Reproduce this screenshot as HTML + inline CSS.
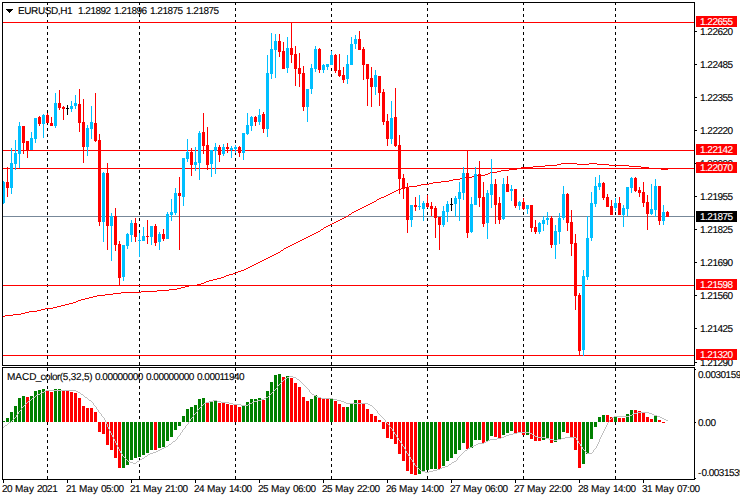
<!DOCTYPE html><html><head><meta charset="utf-8"><title>EURUSD,H1</title>
<style>
html,body{margin:0;padding:0;background:#fff;overflow:hidden;}
body{width:740px;height:500px;position:relative;overflow:hidden;font-family:"Liberation Sans",sans-serif;}
svg{position:absolute;left:0;top:0;}
.t{position:absolute;white-space:nowrap;font-size:10px;line-height:11px;height:11px;color:#000;letter-spacing:-0.5px;text-rendering:geometricPrecision;-webkit-text-stroke:0.12px;}
.w{color:#fff;}
#c{position:absolute;left:0;top:0;width:740px;height:500px;overflow:hidden;}
</style></head><body><div id="c">
<svg width="740" height="500" viewBox="0 0 740 500" shape-rendering="crispEdges">
<rect x="0" y="0" width="740" height="500" fill="#fff"/>
<path d="M47.5 3v2M47.5 8v3M47.5 14v3M47.5 20v3M47.5 26v3M47.5 32v3M47.5 38v3M47.5 44v3M47.5 50v3M47.5 56v3M47.5 62v3M47.5 68v3M47.5 74v3M47.5 80v3M47.5 86v3M47.5 92v3M47.5 98v3M47.5 104v3M47.5 110v3M47.5 116v3M47.5 122v3M47.5 128v3M47.5 134v3M47.5 140v3M47.5 146v3M47.5 152v3M47.5 158v3M47.5 164v3M47.5 170v3M47.5 176v3M47.5 182v3M47.5 188v3M47.5 194v3M47.5 200v3M47.5 206v3M47.5 212v3M47.5 218v3M47.5 224v3M47.5 230v3M47.5 236v3M47.5 242v3M47.5 248v3M47.5 254v3M47.5 260v3M47.5 266v3M47.5 272v3M47.5 278v3M47.5 284v3M47.5 290v3M47.5 296v3M47.5 302v3M47.5 308v3M47.5 314v3M47.5 320v3M47.5 326v3M47.5 332v3M47.5 338v3M47.5 344v3M47.5 350v3M47.5 356v3M47.5 362v3M47.5 368v3M47.5 374v3M47.5 380v3M47.5 386v3M47.5 392v3M47.5 398v3M47.5 404v3M47.5 410v3M47.5 416v3M47.5 422v3M47.5 428v3M47.5 434v3M47.5 440v3M47.5 446v3M47.5 452v3M47.5 458v3M47.5 464v3M47.5 470v3M47.5 476v3M139.5 3v2M139.5 8v3M139.5 14v3M139.5 20v3M139.5 26v3M139.5 32v3M139.5 38v3M139.5 44v3M139.5 50v3M139.5 56v3M139.5 62v3M139.5 68v3M139.5 74v3M139.5 80v3M139.5 86v3M139.5 92v3M139.5 98v3M139.5 104v3M139.5 110v3M139.5 116v3M139.5 122v3M139.5 128v3M139.5 134v3M139.5 140v3M139.5 146v3M139.5 152v3M139.5 158v3M139.5 164v3M139.5 170v3M139.5 176v3M139.5 182v3M139.5 188v3M139.5 194v3M139.5 200v3M139.5 206v3M139.5 212v3M139.5 218v3M139.5 224v3M139.5 230v3M139.5 236v3M139.5 242v3M139.5 248v3M139.5 254v3M139.5 260v3M139.5 266v3M139.5 272v3M139.5 278v3M139.5 284v3M139.5 290v3M139.5 296v3M139.5 302v3M139.5 308v3M139.5 314v3M139.5 320v3M139.5 326v3M139.5 332v3M139.5 338v3M139.5 344v3M139.5 350v3M139.5 356v3M139.5 362v3M139.5 368v3M139.5 374v3M139.5 380v3M139.5 386v3M139.5 392v3M139.5 398v3M139.5 404v3M139.5 410v3M139.5 416v3M139.5 422v3M139.5 428v3M139.5 434v3M139.5 440v3M139.5 446v3M139.5 452v3M139.5 458v3M139.5 464v3M139.5 470v3M139.5 476v3M235.5 3v2M235.5 8v3M235.5 14v3M235.5 20v3M235.5 26v3M235.5 32v3M235.5 38v3M235.5 44v3M235.5 50v3M235.5 56v3M235.5 62v3M235.5 68v3M235.5 74v3M235.5 80v3M235.5 86v3M235.5 92v3M235.5 98v3M235.5 104v3M235.5 110v3M235.5 116v3M235.5 122v3M235.5 128v3M235.5 134v3M235.5 140v3M235.5 146v3M235.5 152v3M235.5 158v3M235.5 164v3M235.5 170v3M235.5 176v3M235.5 182v3M235.5 188v3M235.5 194v3M235.5 200v3M235.5 206v3M235.5 212v3M235.5 218v3M235.5 224v3M235.5 230v3M235.5 236v3M235.5 242v3M235.5 248v3M235.5 254v3M235.5 260v3M235.5 266v3M235.5 272v3M235.5 278v3M235.5 284v3M235.5 290v3M235.5 296v3M235.5 302v3M235.5 308v3M235.5 314v3M235.5 320v3M235.5 326v3M235.5 332v3M235.5 338v3M235.5 344v3M235.5 350v3M235.5 356v3M235.5 362v3M235.5 368v3M235.5 374v3M235.5 380v3M235.5 386v3M235.5 392v3M235.5 398v3M235.5 404v3M235.5 410v3M235.5 416v3M235.5 422v3M235.5 428v3M235.5 434v3M235.5 440v3M235.5 446v3M235.5 452v3M235.5 458v3M235.5 464v3M235.5 470v3M235.5 476v3M331.5 3v2M331.5 8v3M331.5 14v3M331.5 20v3M331.5 26v3M331.5 32v3M331.5 38v3M331.5 44v3M331.5 50v3M331.5 56v3M331.5 62v3M331.5 68v3M331.5 74v3M331.5 80v3M331.5 86v3M331.5 92v3M331.5 98v3M331.5 104v3M331.5 110v3M331.5 116v3M331.5 122v3M331.5 128v3M331.5 134v3M331.5 140v3M331.5 146v3M331.5 152v3M331.5 158v3M331.5 164v3M331.5 170v3M331.5 176v3M331.5 182v3M331.5 188v3M331.5 194v3M331.5 200v3M331.5 206v3M331.5 212v3M331.5 218v3M331.5 224v3M331.5 230v3M331.5 236v3M331.5 242v3M331.5 248v3M331.5 254v3M331.5 260v3M331.5 266v3M331.5 272v3M331.5 278v3M331.5 284v3M331.5 290v3M331.5 296v3M331.5 302v3M331.5 308v3M331.5 314v3M331.5 320v3M331.5 326v3M331.5 332v3M331.5 338v3M331.5 344v3M331.5 350v3M331.5 356v3M331.5 362v3M331.5 368v3M331.5 374v3M331.5 380v3M331.5 386v3M331.5 392v3M331.5 398v3M331.5 404v3M331.5 410v3M331.5 416v3M331.5 422v3M331.5 428v3M331.5 434v3M331.5 440v3M331.5 446v3M331.5 452v3M331.5 458v3M331.5 464v3M331.5 470v3M331.5 476v3M427.5 3v2M427.5 8v3M427.5 14v3M427.5 20v3M427.5 26v3M427.5 32v3M427.5 38v3M427.5 44v3M427.5 50v3M427.5 56v3M427.5 62v3M427.5 68v3M427.5 74v3M427.5 80v3M427.5 86v3M427.5 92v3M427.5 98v3M427.5 104v3M427.5 110v3M427.5 116v3M427.5 122v3M427.5 128v3M427.5 134v3M427.5 140v3M427.5 146v3M427.5 152v3M427.5 158v3M427.5 164v3M427.5 170v3M427.5 176v3M427.5 182v3M427.5 188v3M427.5 194v3M427.5 200v3M427.5 206v3M427.5 212v3M427.5 218v3M427.5 224v3M427.5 230v3M427.5 236v3M427.5 242v3M427.5 248v3M427.5 254v3M427.5 260v3M427.5 266v3M427.5 272v3M427.5 278v3M427.5 284v3M427.5 290v3M427.5 296v3M427.5 302v3M427.5 308v3M427.5 314v3M427.5 320v3M427.5 326v3M427.5 332v3M427.5 338v3M427.5 344v3M427.5 350v3M427.5 356v3M427.5 362v3M427.5 368v3M427.5 374v3M427.5 380v3M427.5 386v3M427.5 392v3M427.5 398v3M427.5 404v3M427.5 410v3M427.5 416v3M427.5 422v3M427.5 428v3M427.5 434v3M427.5 440v3M427.5 446v3M427.5 452v3M427.5 458v3M427.5 464v3M427.5 470v3M427.5 476v3M523.5 3v2M523.5 8v3M523.5 14v3M523.5 20v3M523.5 26v3M523.5 32v3M523.5 38v3M523.5 44v3M523.5 50v3M523.5 56v3M523.5 62v3M523.5 68v3M523.5 74v3M523.5 80v3M523.5 86v3M523.5 92v3M523.5 98v3M523.5 104v3M523.5 110v3M523.5 116v3M523.5 122v3M523.5 128v3M523.5 134v3M523.5 140v3M523.5 146v3M523.5 152v3M523.5 158v3M523.5 164v3M523.5 170v3M523.5 176v3M523.5 182v3M523.5 188v3M523.5 194v3M523.5 200v3M523.5 206v3M523.5 212v3M523.5 218v3M523.5 224v3M523.5 230v3M523.5 236v3M523.5 242v3M523.5 248v3M523.5 254v3M523.5 260v3M523.5 266v3M523.5 272v3M523.5 278v3M523.5 284v3M523.5 290v3M523.5 296v3M523.5 302v3M523.5 308v3M523.5 314v3M523.5 320v3M523.5 326v3M523.5 332v3M523.5 338v3M523.5 344v3M523.5 350v3M523.5 356v3M523.5 362v3M523.5 368v3M523.5 374v3M523.5 380v3M523.5 386v3M523.5 392v3M523.5 398v3M523.5 404v3M523.5 410v3M523.5 416v3M523.5 422v3M523.5 428v3M523.5 434v3M523.5 440v3M523.5 446v3M523.5 452v3M523.5 458v3M523.5 464v3M523.5 470v3M523.5 476v3M615.5 3v2M615.5 8v3M615.5 14v3M615.5 20v3M615.5 26v3M615.5 32v3M615.5 38v3M615.5 44v3M615.5 50v3M615.5 56v3M615.5 62v3M615.5 68v3M615.5 74v3M615.5 80v3M615.5 86v3M615.5 92v3M615.5 98v3M615.5 104v3M615.5 110v3M615.5 116v3M615.5 122v3M615.5 128v3M615.5 134v3M615.5 140v3M615.5 146v3M615.5 152v3M615.5 158v3M615.5 164v3M615.5 170v3M615.5 176v3M615.5 182v3M615.5 188v3M615.5 194v3M615.5 200v3M615.5 206v3M615.5 212v3M615.5 218v3M615.5 224v3M615.5 230v3M615.5 236v3M615.5 242v3M615.5 248v3M615.5 254v3M615.5 260v3M615.5 266v3M615.5 272v3M615.5 278v3M615.5 284v3M615.5 290v3M615.5 296v3M615.5 302v3M615.5 308v3M615.5 314v3M615.5 320v3M615.5 326v3M615.5 332v3M615.5 338v3M615.5 344v3M615.5 350v3M615.5 356v3M615.5 362v3M615.5 368v3M615.5 374v3M615.5 380v3M615.5 386v3M615.5 392v3M615.5 398v3M615.5 404v3M615.5 410v3M615.5 416v3M615.5 422v3M615.5 428v3M615.5 434v3M615.5 440v3M615.5 446v3M615.5 452v3M615.5 458v3M615.5 464v3M615.5 470v3M615.5 476v3" stroke="#000" stroke-width="1" fill="none"/>
<rect x="2" y="421" width="3" height="1" fill="#008000"/>
<rect x="6" y="418" width="3" height="4" fill="#008000"/>
<rect x="10" y="412" width="3" height="10" fill="#008000"/>
<rect x="14" y="406" width="3" height="16" fill="#008000"/>
<rect x="18" y="398" width="3" height="24" fill="#008000"/>
<rect x="22" y="396" width="3" height="26" fill="#008000"/>
<rect x="26" y="397" width="3" height="25" fill="#FF0000"/>
<rect x="30" y="396" width="3" height="26" fill="#008000"/>
<rect x="34" y="391" width="3" height="31" fill="#008000"/>
<rect x="38" y="390" width="3" height="32" fill="#008000"/>
<rect x="42" y="389" width="3" height="33" fill="#008000"/>
<rect x="46" y="390" width="3" height="32" fill="#FF0000"/>
<rect x="50" y="392" width="3" height="30" fill="#FF0000"/>
<rect x="54" y="389" width="3" height="33" fill="#008000"/>
<rect x="58" y="389" width="3" height="33" fill="#008000"/>
<rect x="62" y="391" width="3" height="31" fill="#FF0000"/>
<rect x="66" y="391" width="3" height="31" fill="#FF0000"/>
<rect x="70" y="392" width="3" height="30" fill="#FF0000"/>
<rect x="74" y="393" width="3" height="29" fill="#FF0000"/>
<rect x="78" y="398" width="3" height="24" fill="#FF0000"/>
<rect x="82" y="406" width="3" height="16" fill="#FF0000"/>
<rect x="86" y="408" width="3" height="14" fill="#FF0000"/>
<rect x="90" y="408" width="3" height="14" fill="#FF0000"/>
<rect x="94" y="412" width="3" height="10" fill="#FF0000"/>
<rect x="98" y="422" width="3" height="10" fill="#FF0000"/>
<rect x="102" y="422" width="3" height="12" fill="#FF0000"/>
<rect x="106" y="422" width="3" height="23" fill="#FF0000"/>
<rect x="110" y="422" width="3" height="28" fill="#FF0000"/>
<rect x="114" y="422" width="3" height="36" fill="#FF0000"/>
<rect x="118" y="422" width="3" height="46" fill="#FF0000"/>
<rect x="122" y="422" width="3" height="46" fill="#008000"/>
<rect x="126" y="422" width="3" height="43" fill="#008000"/>
<rect x="130" y="422" width="3" height="38" fill="#008000"/>
<rect x="134" y="422" width="3" height="36" fill="#008000"/>
<rect x="138" y="422" width="3" height="35" fill="#008000"/>
<rect x="142" y="422" width="3" height="33" fill="#008000"/>
<rect x="146" y="422" width="3" height="31" fill="#008000"/>
<rect x="150" y="422" width="3" height="28" fill="#008000"/>
<rect x="154" y="422" width="3" height="28" fill="#FF0000"/>
<rect x="158" y="422" width="3" height="26" fill="#008000"/>
<rect x="162" y="422" width="3" height="25" fill="#008000"/>
<rect x="166" y="422" width="3" height="19" fill="#008000"/>
<rect x="170" y="422" width="3" height="15" fill="#008000"/>
<rect x="174" y="422" width="3" height="8" fill="#008000"/>
<rect x="178" y="422" width="3" height="4" fill="#008000"/>
<rect x="182" y="416" width="3" height="6" fill="#008000"/>
<rect x="186" y="409" width="3" height="13" fill="#008000"/>
<rect x="190" y="407" width="3" height="15" fill="#008000"/>
<rect x="194" y="405" width="3" height="17" fill="#008000"/>
<rect x="198" y="399" width="3" height="23" fill="#008000"/>
<rect x="202" y="398" width="3" height="24" fill="#008000"/>
<rect x="206" y="403" width="3" height="19" fill="#FF0000"/>
<rect x="210" y="402" width="3" height="20" fill="#008000"/>
<rect x="214" y="401" width="3" height="21" fill="#008000"/>
<rect x="218" y="403" width="3" height="19" fill="#FF0000"/>
<rect x="222" y="403" width="3" height="19" fill="#FF0000"/>
<rect x="226" y="404" width="3" height="18" fill="#FF0000"/>
<rect x="230" y="405" width="3" height="17" fill="#FF0000"/>
<rect x="234" y="405" width="3" height="17" fill="#FF0000"/>
<rect x="238" y="407" width="3" height="15" fill="#FF0000"/>
<rect x="242" y="406" width="3" height="16" fill="#008000"/>
<rect x="246" y="402" width="3" height="20" fill="#008000"/>
<rect x="250" y="399" width="3" height="23" fill="#008000"/>
<rect x="254" y="399" width="3" height="23" fill="#008000"/>
<rect x="258" y="398" width="3" height="24" fill="#008000"/>
<rect x="262" y="400" width="3" height="22" fill="#FF0000"/>
<rect x="266" y="391" width="3" height="31" fill="#008000"/>
<rect x="270" y="382" width="3" height="40" fill="#008000"/>
<rect x="274" y="375" width="3" height="47" fill="#008000"/>
<rect x="278" y="374" width="3" height="48" fill="#008000"/>
<rect x="282" y="377" width="3" height="45" fill="#FF0000"/>
<rect x="286" y="376" width="3" height="46" fill="#008000"/>
<rect x="290" y="378" width="3" height="44" fill="#FF0000"/>
<rect x="294" y="383" width="3" height="39" fill="#FF0000"/>
<rect x="298" y="387" width="3" height="35" fill="#FF0000"/>
<rect x="302" y="397" width="3" height="25" fill="#FF0000"/>
<rect x="306" y="401" width="3" height="21" fill="#FF0000"/>
<rect x="310" y="399" width="3" height="23" fill="#008000"/>
<rect x="314" y="395" width="3" height="27" fill="#008000"/>
<rect x="318" y="397" width="3" height="25" fill="#FF0000"/>
<rect x="322" y="399" width="3" height="23" fill="#FF0000"/>
<rect x="326" y="399" width="3" height="23" fill="#FF0000"/>
<rect x="330" y="398" width="3" height="24" fill="#008000"/>
<rect x="334" y="401" width="3" height="21" fill="#FF0000"/>
<rect x="338" y="404" width="3" height="18" fill="#FF0000"/>
<rect x="342" y="407" width="3" height="15" fill="#FF0000"/>
<rect x="346" y="407" width="3" height="15" fill="#008000"/>
<rect x="350" y="403" width="3" height="19" fill="#008000"/>
<rect x="354" y="400" width="3" height="22" fill="#008000"/>
<rect x="358" y="400" width="3" height="22" fill="#FF0000"/>
<rect x="362" y="404" width="3" height="18" fill="#FF0000"/>
<rect x="366" y="409" width="3" height="13" fill="#FF0000"/>
<rect x="370" y="414" width="3" height="8" fill="#FF0000"/>
<rect x="374" y="416" width="3" height="6" fill="#FF0000"/>
<rect x="378" y="420" width="3" height="2" fill="#FF0000"/>
<rect x="382" y="422" width="3" height="7" fill="#FF0000"/>
<rect x="386" y="422" width="3" height="16" fill="#FF0000"/>
<rect x="390" y="422" width="3" height="17" fill="#FF0000"/>
<rect x="394" y="422" width="3" height="22" fill="#FF0000"/>
<rect x="398" y="422" width="3" height="32" fill="#FF0000"/>
<rect x="402" y="422" width="3" height="39" fill="#FF0000"/>
<rect x="406" y="422" width="3" height="49" fill="#FF0000"/>
<rect x="410" y="422" width="3" height="52" fill="#FF0000"/>
<rect x="414" y="422" width="3" height="53" fill="#FF0000"/>
<rect x="418" y="422" width="3" height="52" fill="#008000"/>
<rect x="422" y="422" width="3" height="50" fill="#008000"/>
<rect x="426" y="422" width="3" height="48" fill="#008000"/>
<rect x="430" y="422" width="3" height="47" fill="#008000"/>
<rect x="434" y="422" width="3" height="47" fill="#008000"/>
<rect x="438" y="422" width="3" height="47" fill="#FF0000"/>
<rect x="442" y="422" width="3" height="44" fill="#008000"/>
<rect x="446" y="422" width="3" height="39" fill="#008000"/>
<rect x="450" y="422" width="3" height="36" fill="#008000"/>
<rect x="454" y="422" width="3" height="32" fill="#008000"/>
<rect x="458" y="422" width="3" height="28" fill="#008000"/>
<rect x="462" y="422" width="3" height="21" fill="#008000"/>
<rect x="466" y="422" width="3" height="27" fill="#FF0000"/>
<rect x="470" y="422" width="3" height="26" fill="#008000"/>
<rect x="474" y="422" width="3" height="18" fill="#008000"/>
<rect x="478" y="422" width="3" height="18" fill="#008000"/>
<rect x="482" y="422" width="3" height="21" fill="#FF0000"/>
<rect x="486" y="422" width="3" height="19" fill="#008000"/>
<rect x="490" y="422" width="3" height="14" fill="#008000"/>
<rect x="494" y="422" width="3" height="15" fill="#FF0000"/>
<rect x="498" y="422" width="3" height="17" fill="#FF0000"/>
<rect x="502" y="422" width="3" height="13" fill="#008000"/>
<rect x="506" y="422" width="3" height="11" fill="#008000"/>
<rect x="510" y="422" width="3" height="9" fill="#008000"/>
<rect x="514" y="422" width="3" height="11" fill="#FF0000"/>
<rect x="518" y="422" width="3" height="10" fill="#FF0000"/>
<rect x="522" y="422" width="3" height="13" fill="#FF0000"/>
<rect x="526" y="422" width="3" height="13" fill="#008000"/>
<rect x="530" y="422" width="3" height="17" fill="#FF0000"/>
<rect x="534" y="422" width="3" height="19" fill="#FF0000"/>
<rect x="538" y="422" width="3" height="19" fill="#FF0000"/>
<rect x="542" y="422" width="3" height="18" fill="#008000"/>
<rect x="546" y="422" width="3" height="17" fill="#008000"/>
<rect x="550" y="422" width="3" height="21" fill="#FF0000"/>
<rect x="554" y="422" width="3" height="20" fill="#008000"/>
<rect x="558" y="422" width="3" height="17" fill="#008000"/>
<rect x="562" y="422" width="3" height="10" fill="#008000"/>
<rect x="566" y="422" width="3" height="11" fill="#FF0000"/>
<rect x="570" y="422" width="3" height="16" fill="#FF0000"/>
<rect x="574" y="422" width="3" height="28" fill="#FF0000"/>
<rect x="578" y="422" width="3" height="46" fill="#FF0000"/>
<rect x="582" y="422" width="3" height="42" fill="#008000"/>
<rect x="586" y="422" width="3" height="32" fill="#008000"/>
<rect x="590" y="422" width="3" height="17" fill="#008000"/>
<rect x="594" y="422" width="3" height="5" fill="#008000"/>
<rect x="598" y="417" width="3" height="5" fill="#008000"/>
<rect x="602" y="415" width="3" height="7" fill="#008000"/>
<rect x="606" y="415" width="3" height="7" fill="#FF0000"/>
<rect x="610" y="417" width="3" height="5" fill="#FF0000"/>
<rect x="614" y="417" width="3" height="5" fill="#008000"/>
<rect x="618" y="418" width="3" height="4" fill="#FF0000"/>
<rect x="622" y="418" width="3" height="4" fill="#FF0000"/>
<rect x="626" y="414" width="3" height="8" fill="#008000"/>
<rect x="630" y="410" width="3" height="12" fill="#008000"/>
<rect x="634" y="410" width="3" height="12" fill="#FF0000"/>
<rect x="638" y="411" width="3" height="11" fill="#FF0000"/>
<rect x="642" y="413" width="3" height="9" fill="#FF0000"/>
<rect x="646" y="417" width="3" height="5" fill="#FF0000"/>
<rect x="650" y="419" width="3" height="3" fill="#FF0000"/>
<rect x="654" y="416" width="3" height="6" fill="#008000"/>
<rect x="658" y="420" width="3" height="2" fill="#FF0000"/>
<rect x="662" y="422" width="3" height="1" fill="#FF0000"/>
<path d="M16 416h1v1h-1zM102 416h1v1h-1zM193 416h1v1h-1zM381 416h1v1h-1zM614 416h15v1h-15zM657 416h3v1h-3zM9 422h2v1h-2zM106 422h1v1h-1zM188 422h1v1h-1zM386 422h1v1h-1zM608 422h1v1h-1zM115 441h1v1h-1zM173 441h2v1h-2zM400 441h1v1h-1zM486 441h2v1h-2zM578 441h1v1h-1zM599 441h1v1h-1zM419 469h1v1h-1zM437 469h3v1h-3zM113 437h1v1h-1zM177 437h1v1h-1zM397 437h1v1h-1zM501 437h3v1h-3zM537 437h8v1h-8zM565 437h11v1h-11zM600 437h1v1h-1zM117 446h1v1h-1zM166 446h2v1h-2zM403 446h1v1h-1zM472 446h2v1h-2zM581 446h1v1h-1zM596 446h1v1h-1zM29 400h2v1h-2zM89 400h2v1h-2zM213 400h4v1h-4zM257 400h4v1h-4zM337 400h4v1h-4zM114 439h1v1h-1zM176 439h1v1h-1zM398 439h1v1h-1zM490 439h7v1h-7zM549 439h4v1h-4zM557 439h4v1h-4zM576 439h1v1h-1zM599 439h1v1h-1zM8 423h1v1h-1zM106 423h1v1h-1zM188 423h1v1h-1zM387 423h1v1h-1zM607 423h1v1h-1zM122 455h1v1h-1zM147 455h1v1h-1zM408 455h1v1h-1zM460 455h1v1h-1zM46 390h30v1h-30zM274 390h1v1h-1zM309 390h1v1h-1zM121 453h1v1h-1zM150 453h3v1h-3zM407 453h1v1h-1zM462 453h1v1h-1zM587 453h5v1h-5zM114 440h1v1h-1zM175 440h1v1h-1zM399 440h1v1h-1zM488 440h2v1h-2zM553 440h4v1h-4zM577 440h1v1h-1zM599 440h1v1h-1zM116 443h1v1h-1zM171 443h1v1h-1zM401 443h1v1h-1zM478 443h6v1h-6zM579 443h1v1h-1zM598 443h1v1h-1zM28 401h1v1h-1zM91 401h1v1h-1zM209 401h4v1h-4zM217 401h4v1h-4zM254 401h3v1h-3zM341 401h3v1h-3zM117 445h1v1h-1zM168 445h1v1h-1zM402 445h1v1h-1zM474 445h2v1h-2zM580 445h1v1h-1zM597 445h1v1h-1zM417 467h1v1h-1zM442 467h3v1h-3zM120 451h1v1h-1zM156 451h2v1h-2zM406 451h1v1h-1zM464 451h1v1h-1zM585 451h1v1h-1zM593 451h1v1h-1zM118 448h1v1h-1zM162 448h2v1h-2zM404 448h1v1h-1zM468 448h2v1h-2zM582 448h1v1h-1zM595 448h1v1h-1zM128 461h2v1h-2zM137 461h2v1h-2zM412 461h1v1h-1zM454 461h2v1h-2zM18 412h1v1h-1zM99 412h1v1h-1zM196 412h1v1h-1zM377 412h1v1h-1zM637 412h12v1h-12zM27 402h1v1h-1zM92 402h1v1h-1zM206 402h3v1h-3zM221 402h8v1h-8zM252 402h2v1h-2zM344 402h2v1h-2zM119 449h1v1h-1zM160 449h2v1h-2zM405 449h1v1h-1zM467 449h1v1h-1zM583 449h1v1h-1zM594 449h1v1h-1zM126 459h1v1h-1zM140 459h2v1h-2zM411 459h1v1h-1zM457 459h1v1h-1zM3 427h1v1h-1zM108 427h1v1h-1zM185 427h1v1h-1zM390 427h1v1h-1zM605 427h1v1h-1zM414 464h1v1h-1zM449 464h2v1h-2zM20 410h1v1h-1zM98 410h1v1h-1zM197 410h1v1h-1zM376 410h1v1h-1zM26 403h1v1h-1zM93 403h1v1h-1zM204 403h2v1h-2zM229 403h4v1h-4zM250 403h2v1h-2zM346 403h22v1h-22zM17 414h1v1h-1zM101 414h1v1h-1zM194 414h1v1h-1zM379 414h1v1h-1zM632 414h2v1h-2zM652 414h2v1h-2zM112 436h1v1h-1zM178 436h1v1h-1zM396 436h1v1h-1zM504 436h2v1h-2zM535 436h2v1h-2zM601 436h1v1h-1zM425 472h4v1h-4zM113 438h1v1h-1zM177 438h1v1h-1zM398 438h1v1h-1zM497 438h4v1h-4zM545 438h4v1h-4zM561 438h4v1h-4zM576 438h1v1h-1zM600 438h1v1h-1zM14 418h1v1h-1zM104 418h1v1h-1zM191 418h1v1h-1zM383 418h1v1h-1zM611 418h1v1h-1zM662 418h2v1h-2zM289 376h4v1h-4zM119 450h1v1h-1zM158 450h2v1h-2zM405 450h1v1h-1zM465 450h2v1h-2zM584 450h1v1h-1zM593 450h1v1h-1zM120 452h1v1h-1zM153 452h3v1h-3zM406 452h1v1h-1zM463 452h1v1h-1zM586 452h1v1h-1zM592 452h1v1h-1zM278 385h1v1h-1zM304 385h1v1h-1zM5 425h2v1h-2zM107 425h1v1h-1zM186 425h1v1h-1zM389 425h1v1h-1zM606 425h1v1h-1zM32 398h1v1h-1zM87 398h1v1h-1zM264 398h2v1h-2zM321 398h12v1h-12zM111 434h1v1h-1zM180 434h1v1h-1zM395 434h1v1h-1zM509 434h4v1h-4zM532 434h1v1h-1zM602 434h1v1h-1zM31 399h1v1h-1zM88 399h1v1h-1zM261 399h3v1h-3zM333 399h4v1h-4zM123 456h1v1h-1zM145 456h2v1h-2zM409 456h1v1h-1zM459 456h1v1h-1zM18 413h1v1h-1zM100 413h1v1h-1zM195 413h1v1h-1zM378 413h1v1h-1zM634 413h3v1h-3zM649 413h3v1h-3zM22 407h1v1h-1zM96 407h1v1h-1zM200 407h1v1h-1zM373 407h1v1h-1zM44 391h2v1h-2zM76 391h2v1h-2zM273 391h1v1h-1zM309 391h1v1h-1zM116 444h1v1h-1zM169 444h2v1h-2zM402 444h1v1h-1zM476 444h2v1h-2zM580 444h1v1h-1zM597 444h1v1h-1zM24 405h1v1h-1zM94 405h1v1h-1zM202 405h1v1h-1zM241 405h7v1h-7zM370 405h2v1h-2zM122 454h1v1h-1zM148 454h2v1h-2zM408 454h1v1h-1zM461 454h1v1h-1zM282 381h1v1h-1zM300 381h1v1h-1zM23 406h1v1h-1zM95 406h1v1h-1zM201 406h1v1h-1zM372 406h1v1h-1zM115 442h1v1h-1zM172 442h1v1h-1zM400 442h1v1h-1zM484 442h2v1h-2zM578 442h1v1h-1zM598 442h1v1h-1zM118 447h1v1h-1zM164 447h2v1h-2zM404 447h1v1h-1zM470 447h2v1h-2zM582 447h1v1h-1zM596 447h1v1h-1zM127 460h1v1h-1zM139 460h1v1h-1zM412 460h1v1h-1zM456 460h1v1h-1zM416 466h1v1h-1zM445 466h3v1h-3zM125 458h1v1h-1zM142 458h2v1h-2zM410 458h1v1h-1zM457 458h1v1h-1zM4 426h1v1h-1zM107 426h1v1h-1zM185 426h1v1h-1zM389 426h1v1h-1zM606 426h1v1h-1zM112 435h1v1h-1zM179 435h1v1h-1zM396 435h1v1h-1zM506 435h3v1h-3zM533 435h2v1h-2zM601 435h1v1h-1zM11 421h1v1h-1zM105 421h1v1h-1zM189 421h1v1h-1zM385 421h1v1h-1zM609 421h1v1h-1zM25 404h1v1h-1zM93 404h1v1h-1zM203 404h1v1h-1zM233 404h8v1h-8zM248 404h2v1h-2zM368 404h2v1h-2zM111 433h1v1h-1zM180 433h1v1h-1zM394 433h1v1h-1zM513 433h4v1h-4zM529 433h3v1h-3zM602 433h1v1h-1zM276 388h1v1h-1zM307 388h1v1h-1zM33 397h2v1h-2zM85 397h2v1h-2zM266 397h2v1h-2zM318 397h3v1h-3zM110 432h1v1h-1zM181 432h1v1h-1zM394 432h1v1h-1zM517 432h12v1h-12zM603 432h1v1h-1zM285 378h2v1h-2zM296 378h1v1h-1zM283 380h1v1h-1zM299 380h1v1h-1zM420 470h2v1h-2zM433 470h4v1h-4zM21 408h1v1h-1zM96 408h1v1h-1zM199 408h1v1h-1zM374 408h1v1h-1zM36 395h2v1h-2zM83 395h1v1h-1zM269 395h1v1h-1zM314 395h2v1h-2zM415 465h1v1h-1zM448 465h1v1h-1zM277 387h1v1h-1zM306 387h1v1h-1zM418 468h1v1h-1zM440 468h2v1h-2zM35 396h1v1h-1zM84 396h1v1h-1zM268 396h1v1h-1zM316 396h2v1h-2zM16 415h1v1h-1zM101 415h1v1h-1zM193 415h1v1h-1zM380 415h1v1h-1zM629 415h3v1h-3zM654 415h3v1h-3zM287 377h2v1h-2zM293 377h3v1h-3zM13 419h1v1h-1zM104 419h1v1h-1zM190 419h1v1h-1zM384 419h1v1h-1zM610 419h1v1h-1zM664 419h2v1h-2zM12 420h1v1h-1zM105 420h1v1h-1zM190 420h1v1h-1zM385 420h1v1h-1zM609 420h1v1h-1zM666 420h2v1h-2zM422 471h3v1h-3zM429 471h4v1h-4zM15 417h1v1h-1zM103 417h1v1h-1zM192 417h1v1h-1zM382 417h1v1h-1zM612 417h2v1h-2zM660 417h2v1h-2zM124 457h1v1h-1zM144 457h1v1h-1zM410 457h1v1h-1zM458 457h1v1h-1zM40 393h2v1h-2zM80 393h1v1h-1zM271 393h1v1h-1zM311 393h1v1h-1zM7 424h1v1h-1zM107 424h1v1h-1zM187 424h1v1h-1zM388 424h1v1h-1zM607 424h1v1h-1zM42 392h2v1h-2zM78 392h2v1h-2zM272 392h1v1h-1zM310 392h1v1h-1zM130 462h3v1h-3zM136 462h1v1h-1zM413 462h1v1h-1zM452 462h2v1h-2zM38 394h2v1h-2zM81 394h2v1h-2zM270 394h1v1h-1zM312 394h2v1h-2zM133 463h3v1h-3zM414 463h1v1h-1zM451 463h1v1h-1zM110 431h1v1h-1zM182 431h1v1h-1zM393 431h1v1h-1zM603 431h1v1h-1zM280 383h1v1h-1zM302 383h1v1h-1zM275 389h1v1h-1zM308 389h1v1h-1zM109 430h1v1h-1zM182 430h1v1h-1zM392 430h1v1h-1zM604 430h1v1h-1zM109 429h1v1h-1zM183 429h1v1h-1zM392 429h1v1h-1zM604 429h1v1h-1zM108 428h1v1h-1zM184 428h1v1h-1zM391 428h1v1h-1zM605 428h1v1h-1zM281 382h1v1h-1zM301 382h1v1h-1zM19 411h1v1h-1zM98 411h1v1h-1zM197 411h1v1h-1zM377 411h1v1h-1zM284 379h1v1h-1zM297 379h2v1h-2zM277 386h1v1h-1zM305 386h1v1h-1zM279 384h1v1h-1zM303 384h1v1h-1zM21 409h1v1h-1zM97 409h1v1h-1zM198 409h1v1h-1zM375 409h1v1h-1z" fill="#C0C0C0"/>
<rect x="3" y="22" width="691" height="1" fill="#FF0000"/>
<rect x="3" y="150" width="691" height="1" fill="#FF0000"/>
<rect x="3" y="168" width="691" height="1" fill="#FF0000"/>
<rect x="3" y="285" width="691" height="1" fill="#FF0000"/>
<rect x="3" y="355" width="691" height="1" fill="#FF0000"/>
<rect x="3" y="216" width="691" height="1" fill="#778899"/>
<path d="M409 186h8v1h-8zM324 227h2v1h-2zM270 256h2v1h-2zM13 314h8v1h-8zM206 281h3v1h-3zM69 303h4v1h-4zM545 165h12v1h-12zM609 165h20v1h-20zM474 175h11v1h-11zM105 294h8v1h-8zM141 291h16v1h-16zM346 216h2v1h-2zM392 192h2v1h-2zM561 163h16v1h-16zM589 163h8v1h-8zM429 183h4v1h-4zM441 181h8v1h-8zM189 285h8v1h-8zM157 290h12v1h-12zM351 213h1v1h-1zM296 242h2v1h-2zM338 220h2v1h-2zM113 293h8v1h-8zM342 218h2v1h-2zM384 196h2v1h-2zM462 177h10v1h-10zM533 166h12v1h-12zM629 166h12v1h-12zM213 279h4v1h-4zM433 182h8v1h-8zM246 268h2v1h-2zM288 246h2v1h-2zM57 306h4v1h-4zM521 167h12v1h-12zM641 167h8v1h-8zM453 179h7v1h-7zM557 164h4v1h-4zM577 164h12v1h-12zM597 164h12v1h-12zM177 288h4v1h-4zM37 310h4v1h-4zM490 172h7v1h-7zM197 284h4v1h-4zM370 203h2v1h-2zM316 232h2v1h-2zM121 292h20v1h-20zM509 169h8v1h-8zM661 169h7v1h-7zM65 304h4v1h-4zM25 312h4v1h-4zM29 311h8v1h-8zM266 258h2v1h-2zM312 234h2v1h-2zM421 184h8v1h-8zM45 308h8v1h-8zM226 275h3v1h-3zM517 168h4v1h-4zM649 168h12v1h-12zM388 194h2v1h-2zM89 297h4v1h-4zM284 248h2v1h-2zM334 222h2v1h-2zM449 180h4v1h-4zM488 173h2v1h-2zM330 224h2v1h-2zM276 253h2v1h-2zM97 295h8v1h-8zM78 300h3v1h-3zM53 307h4v1h-4zM398 189h3v1h-3zM501 170h8v1h-8zM5 315h8v1h-8zM294 243h2v1h-2zM366 205h2v1h-2zM417 185h4v1h-4zM85 298h4v1h-4zM362 207h2v1h-2zM308 236h2v1h-2zM376 200h1v1h-1zM405 187h4v1h-4zM221 277h3v1h-3zM204 282h2v1h-2zM268 257h2v1h-2zM326 226h2v1h-2zM272 255h2v1h-2zM314 233h2v1h-2zM238 271h3v1h-3zM497 171h4v1h-4zM233 273h3v1h-3zM209 280h4v1h-4zM318 231h2v1h-2zM73 302h3v1h-3zM244 269h2v1h-2zM290 245h2v1h-2zM169 289h8v1h-8zM485 174h3v1h-3zM41 309h4v1h-4zM217 278h4v1h-4zM372 202h2v1h-2zM61 305h4v1h-4zM21 313h4v1h-4zM264 259h2v1h-2zM364 206h2v1h-2zM310 235h2v1h-2zM229 274h4v1h-4zM260 261h2v1h-2zM185 286h4v1h-4zM336 221h2v1h-2zM381 197h3v1h-3zM286 247h2v1h-2zM332 223h2v1h-2zM278 252h2v1h-2zM76 301h2v1h-2zM472 176h2v1h-2zM368 204h2v1h-2zM241 270h3v1h-3zM81 299h4v1h-4zM360 208h2v1h-2zM306 237h2v1h-2zM401 188h4v1h-4zM224 276h2v1h-2zM201 283h3v1h-3zM256 263h2v1h-2zM283 249h1v1h-1zM328 225h2v1h-2zM274 254h2v1h-2zM93 296h4v1h-4zM3 316h2v1h-2zM236 272h2v1h-2zM356 210h2v1h-2zM302 239h2v1h-2zM348 215h1v1h-1zM252 265h2v1h-2zM352 212h2v1h-2zM298 241h2v1h-2zM460 178h2v1h-2zM374 201h2v1h-2zM181 287h4v1h-4zM262 260h2v1h-2zM379 198h2v1h-2zM394 191h2v1h-2zM281 250h2v1h-2zM344 217h2v1h-2zM390 193h2v1h-2zM258 262h2v1h-2zM321 229h2v1h-2zM386 195h2v1h-2zM358 209h2v1h-2zM304 238h2v1h-2zM349 214h2v1h-2zM254 264h2v1h-2zM300 240h2v1h-2zM250 266h2v1h-2zM377 199h2v1h-2zM323 228h1v1h-1zM396 190h2v1h-2zM354 211h2v1h-2zM292 244h2v1h-2zM248 267h2v1h-2zM280 251h1v1h-1zM340 219h2v1h-2zM320 230h1v1h-1z" fill="#FF0000"/>
<rect x="3" y="181" width="1" height="23" fill="#00BFFF"/>
<rect x="2" y="182" width="3" height="21" fill="#00BFFF"/>
<rect x="7" y="167" width="1" height="30" fill="#FF0000"/>
<rect x="6" y="182" width="3" height="6" fill="#FF0000"/>
<rect x="11" y="148" width="1" height="46" fill="#00BFFF"/>
<rect x="10" y="163" width="3" height="25" fill="#00BFFF"/>
<rect x="15" y="140" width="1" height="30" fill="#00BFFF"/>
<rect x="14" y="153" width="3" height="11" fill="#00BFFF"/>
<rect x="19" y="122" width="1" height="46" fill="#00BFFF"/>
<rect x="18" y="126" width="3" height="28" fill="#00BFFF"/>
<rect x="23" y="126" width="1" height="28" fill="#FF0000"/>
<rect x="22" y="126" width="3" height="17" fill="#FF0000"/>
<rect x="27" y="141" width="1" height="17" fill="#FF0000"/>
<rect x="26" y="141" width="3" height="9" fill="#FF0000"/>
<rect x="31" y="132" width="1" height="18" fill="#00BFFF"/>
<rect x="30" y="138" width="3" height="12" fill="#00BFFF"/>
<rect x="35" y="118" width="1" height="25" fill="#00BFFF"/>
<rect x="34" y="118" width="3" height="21" fill="#00BFFF"/>
<rect x="39" y="116" width="1" height="10" fill="#FF0000"/>
<rect x="38" y="117" width="3" height="7" fill="#FF0000"/>
<rect x="43" y="114" width="1" height="24" fill="#00BFFF"/>
<rect x="42" y="115" width="3" height="9" fill="#00BFFF"/>
<rect x="47" y="113" width="1" height="10" fill="#FF0000"/>
<rect x="46" y="115" width="3" height="8" fill="#FF0000"/>
<rect x="51" y="117" width="1" height="9" fill="#FF0000"/>
<rect x="50" y="123" width="3" height="3" fill="#FF0000"/>
<rect x="55" y="93" width="1" height="35" fill="#00BFFF"/>
<rect x="54" y="103" width="3" height="23" fill="#00BFFF"/>
<rect x="59" y="90" width="1" height="20" fill="#FF0000"/>
<rect x="58" y="103" width="3" height="5" fill="#FF0000"/>
<rect x="63" y="106" width="1" height="14" fill="#FF0000"/>
<rect x="62" y="107" width="3" height="2" fill="#FF0000"/>
<rect x="67" y="105" width="1" height="10" fill="#000"/>
<rect x="66" y="108" width="3" height="1" fill="#000"/>
<rect x="71" y="101" width="1" height="11" fill="#00BFFF"/>
<rect x="70" y="106" width="3" height="3" fill="#00BFFF"/>
<rect x="75" y="95" width="1" height="14" fill="#00BFFF"/>
<rect x="74" y="103" width="3" height="3" fill="#00BFFF"/>
<rect x="79" y="89" width="1" height="43" fill="#FF0000"/>
<rect x="78" y="104" width="3" height="19" fill="#FF0000"/>
<rect x="83" y="99" width="1" height="64" fill="#FF0000"/>
<rect x="82" y="122" width="3" height="25" fill="#FF0000"/>
<rect x="87" y="125" width="1" height="31" fill="#00BFFF"/>
<rect x="86" y="128" width="3" height="19" fill="#00BFFF"/>
<rect x="91" y="106" width="1" height="33" fill="#00BFFF"/>
<rect x="90" y="122" width="3" height="7" fill="#00BFFF"/>
<rect x="95" y="93" width="1" height="49" fill="#FF0000"/>
<rect x="94" y="123" width="3" height="18" fill="#FF0000"/>
<rect x="99" y="134" width="1" height="92" fill="#FF0000"/>
<rect x="98" y="140" width="3" height="82" fill="#FF0000"/>
<rect x="103" y="172" width="1" height="70" fill="#00BFFF"/>
<rect x="102" y="173" width="3" height="49" fill="#00BFFF"/>
<rect x="107" y="163" width="1" height="87" fill="#FF0000"/>
<rect x="106" y="173" width="3" height="53" fill="#FF0000"/>
<rect x="111" y="213" width="1" height="48" fill="#00BFFF"/>
<rect x="110" y="216" width="3" height="10" fill="#00BFFF"/>
<rect x="115" y="208" width="1" height="43" fill="#FF0000"/>
<rect x="114" y="216" width="3" height="29" fill="#FF0000"/>
<rect x="119" y="241" width="1" height="44" fill="#FF0000"/>
<rect x="118" y="244" width="3" height="34" fill="#FF0000"/>
<rect x="123" y="245" width="1" height="36" fill="#00BFFF"/>
<rect x="122" y="245" width="3" height="32" fill="#00BFFF"/>
<rect x="127" y="233" width="1" height="16" fill="#00BFFF"/>
<rect x="126" y="234" width="3" height="12" fill="#00BFFF"/>
<rect x="131" y="220" width="1" height="22" fill="#00BFFF"/>
<rect x="130" y="223" width="3" height="12" fill="#00BFFF"/>
<rect x="135" y="218" width="1" height="24" fill="#FF0000"/>
<rect x="134" y="223" width="3" height="14" fill="#FF0000"/>
<rect x="139" y="233" width="1" height="24" fill="#00BFFF"/>
<rect x="138" y="240" width="3" height="1" fill="#00BFFF"/>
<rect x="143" y="227" width="1" height="14" fill="#00BFFF"/>
<rect x="142" y="236" width="3" height="5" fill="#00BFFF"/>
<rect x="147" y="220" width="1" height="24" fill="#FF0000"/>
<rect x="146" y="236" width="3" height="1" fill="#FF0000"/>
<rect x="151" y="226" width="1" height="19" fill="#00BFFF"/>
<rect x="150" y="226" width="3" height="11" fill="#00BFFF"/>
<rect x="155" y="224" width="1" height="22" fill="#FF0000"/>
<rect x="154" y="226" width="3" height="17" fill="#FF0000"/>
<rect x="159" y="232" width="1" height="18" fill="#00BFFF"/>
<rect x="158" y="234" width="3" height="8" fill="#00BFFF"/>
<rect x="163" y="229" width="1" height="12" fill="#FF0000"/>
<rect x="162" y="234" width="3" height="5" fill="#FF0000"/>
<rect x="167" y="212" width="1" height="27" fill="#00BFFF"/>
<rect x="166" y="214" width="3" height="25" fill="#00BFFF"/>
<rect x="171" y="199" width="1" height="22" fill="#00BFFF"/>
<rect x="170" y="212" width="3" height="3" fill="#00BFFF"/>
<rect x="175" y="188" width="1" height="27" fill="#00BFFF"/>
<rect x="174" y="193" width="3" height="20" fill="#00BFFF"/>
<rect x="179" y="177" width="1" height="73" fill="#FF0000"/>
<rect x="178" y="193" width="3" height="3" fill="#FF0000"/>
<rect x="183" y="158" width="1" height="48" fill="#00BFFF"/>
<rect x="182" y="158" width="3" height="39" fill="#00BFFF"/>
<rect x="187" y="139" width="1" height="23" fill="#00BFFF"/>
<rect x="186" y="152" width="3" height="7" fill="#00BFFF"/>
<rect x="191" y="148" width="1" height="28" fill="#FF0000"/>
<rect x="190" y="152" width="3" height="13" fill="#FF0000"/>
<rect x="195" y="147" width="1" height="24" fill="#00BFFF"/>
<rect x="194" y="162" width="3" height="3" fill="#00BFFF"/>
<rect x="199" y="131" width="1" height="49" fill="#00BFFF"/>
<rect x="198" y="133" width="3" height="30" fill="#00BFFF"/>
<rect x="203" y="113" width="1" height="41" fill="#FF0000"/>
<rect x="202" y="132" width="3" height="14" fill="#FF0000"/>
<rect x="207" y="127" width="1" height="43" fill="#FF0000"/>
<rect x="206" y="145" width="3" height="20" fill="#FF0000"/>
<rect x="211" y="150" width="1" height="27" fill="#00BFFF"/>
<rect x="210" y="150" width="3" height="14" fill="#00BFFF"/>
<rect x="215" y="143" width="1" height="31" fill="#00BFFF"/>
<rect x="214" y="147" width="3" height="4" fill="#00BFFF"/>
<rect x="219" y="145" width="1" height="17" fill="#FF0000"/>
<rect x="218" y="147" width="3" height="8" fill="#FF0000"/>
<rect x="223" y="144" width="1" height="12" fill="#00BFFF"/>
<rect x="222" y="147" width="3" height="7" fill="#00BFFF"/>
<rect x="227" y="143" width="1" height="10" fill="#FF0000"/>
<rect x="226" y="147" width="3" height="2" fill="#FF0000"/>
<rect x="231" y="146" width="1" height="12" fill="#00BFFF"/>
<rect x="230" y="148" width="3" height="2" fill="#00BFFF"/>
<rect x="235" y="145" width="1" height="8" fill="#00BFFF"/>
<rect x="234" y="147" width="3" height="2" fill="#00BFFF"/>
<rect x="239" y="146" width="1" height="11" fill="#FF0000"/>
<rect x="238" y="147" width="3" height="6" fill="#FF0000"/>
<rect x="243" y="133" width="1" height="27" fill="#00BFFF"/>
<rect x="242" y="133" width="3" height="20" fill="#00BFFF"/>
<rect x="247" y="113" width="1" height="22" fill="#00BFFF"/>
<rect x="246" y="125" width="3" height="9" fill="#00BFFF"/>
<rect x="251" y="116" width="1" height="15" fill="#00BFFF"/>
<rect x="250" y="117" width="3" height="9" fill="#00BFFF"/>
<rect x="255" y="116" width="1" height="10" fill="#FF0000"/>
<rect x="254" y="117" width="3" height="5" fill="#FF0000"/>
<rect x="259" y="109" width="1" height="16" fill="#00BFFF"/>
<rect x="258" y="115" width="3" height="7" fill="#00BFFF"/>
<rect x="263" y="112" width="1" height="21" fill="#FF0000"/>
<rect x="262" y="114" width="3" height="15" fill="#FF0000"/>
<rect x="267" y="55" width="1" height="82" fill="#00BFFF"/>
<rect x="266" y="73" width="3" height="56" fill="#00BFFF"/>
<rect x="271" y="33" width="1" height="46" fill="#00BFFF"/>
<rect x="270" y="49" width="3" height="25" fill="#00BFFF"/>
<rect x="275" y="34" width="1" height="44" fill="#00BFFF"/>
<rect x="274" y="41" width="3" height="9" fill="#00BFFF"/>
<rect x="279" y="34" width="1" height="23" fill="#FF0000"/>
<rect x="278" y="41" width="3" height="11" fill="#FF0000"/>
<rect x="283" y="42" width="1" height="27" fill="#FF0000"/>
<rect x="282" y="51" width="3" height="18" fill="#FF0000"/>
<rect x="287" y="37" width="1" height="36" fill="#00BFFF"/>
<rect x="286" y="48" width="3" height="20" fill="#00BFFF"/>
<rect x="291" y="23" width="1" height="40" fill="#FF0000"/>
<rect x="290" y="48" width="3" height="7" fill="#FF0000"/>
<rect x="295" y="46" width="1" height="40" fill="#FF0000"/>
<rect x="294" y="54" width="3" height="15" fill="#FF0000"/>
<rect x="299" y="53" width="1" height="34" fill="#FF0000"/>
<rect x="298" y="68" width="3" height="6" fill="#FF0000"/>
<rect x="303" y="66" width="1" height="45" fill="#FF0000"/>
<rect x="302" y="73" width="3" height="34" fill="#FF0000"/>
<rect x="307" y="89" width="1" height="33" fill="#00BFFF"/>
<rect x="306" y="89" width="3" height="18" fill="#00BFFF"/>
<rect x="311" y="64" width="1" height="30" fill="#00BFFF"/>
<rect x="310" y="68" width="3" height="21" fill="#00BFFF"/>
<rect x="315" y="46" width="1" height="26" fill="#00BFFF"/>
<rect x="314" y="49" width="3" height="20" fill="#00BFFF"/>
<rect x="319" y="48" width="1" height="25" fill="#FF0000"/>
<rect x="318" y="49" width="3" height="21" fill="#FF0000"/>
<rect x="323" y="64" width="1" height="9" fill="#00BFFF"/>
<rect x="322" y="65" width="3" height="5" fill="#00BFFF"/>
<rect x="327" y="64" width="1" height="6" fill="#00BFFF"/>
<rect x="326" y="64" width="3" height="3" fill="#00BFFF"/>
<rect x="331" y="51" width="1" height="14" fill="#00BFFF"/>
<rect x="330" y="55" width="3" height="10" fill="#00BFFF"/>
<rect x="335" y="54" width="1" height="19" fill="#FF0000"/>
<rect x="334" y="55" width="3" height="16" fill="#FF0000"/>
<rect x="339" y="54" width="1" height="23" fill="#FF0000"/>
<rect x="338" y="70" width="3" height="6" fill="#FF0000"/>
<rect x="343" y="67" width="1" height="16" fill="#FF0000"/>
<rect x="342" y="75" width="3" height="5" fill="#FF0000"/>
<rect x="347" y="55" width="1" height="29" fill="#00BFFF"/>
<rect x="346" y="64" width="3" height="15" fill="#00BFFF"/>
<rect x="351" y="37" width="1" height="28" fill="#00BFFF"/>
<rect x="350" y="44" width="3" height="21" fill="#00BFFF"/>
<rect x="355" y="35" width="1" height="14" fill="#00BFFF"/>
<rect x="354" y="39" width="3" height="5" fill="#00BFFF"/>
<rect x="359" y="31" width="1" height="19" fill="#FF0000"/>
<rect x="358" y="39" width="3" height="11" fill="#FF0000"/>
<rect x="363" y="47" width="1" height="33" fill="#FF0000"/>
<rect x="362" y="49" width="3" height="16" fill="#FF0000"/>
<rect x="367" y="64" width="1" height="42" fill="#FF0000"/>
<rect x="366" y="64" width="3" height="15" fill="#FF0000"/>
<rect x="371" y="67" width="1" height="40" fill="#FF0000"/>
<rect x="370" y="78" width="3" height="9" fill="#FF0000"/>
<rect x="375" y="70" width="1" height="25" fill="#00BFFF"/>
<rect x="374" y="75" width="3" height="12" fill="#00BFFF"/>
<rect x="379" y="76" width="1" height="30" fill="#FF0000"/>
<rect x="378" y="76" width="3" height="17" fill="#FF0000"/>
<rect x="383" y="89" width="1" height="36" fill="#FF0000"/>
<rect x="382" y="92" width="3" height="30" fill="#FF0000"/>
<rect x="387" y="114" width="1" height="32" fill="#FF0000"/>
<rect x="386" y="121" width="3" height="18" fill="#FF0000"/>
<rect x="391" y="101" width="1" height="43" fill="#00BFFF"/>
<rect x="390" y="118" width="3" height="21" fill="#00BFFF"/>
<rect x="395" y="88" width="1" height="59" fill="#FF0000"/>
<rect x="394" y="117" width="3" height="29" fill="#FF0000"/>
<rect x="399" y="135" width="1" height="59" fill="#FF0000"/>
<rect x="398" y="145" width="3" height="34" fill="#FF0000"/>
<rect x="403" y="174" width="1" height="25" fill="#FF0000"/>
<rect x="402" y="178" width="3" height="10" fill="#FF0000"/>
<rect x="407" y="183" width="1" height="50" fill="#FF0000"/>
<rect x="406" y="188" width="3" height="32" fill="#FF0000"/>
<rect x="411" y="205" width="1" height="22" fill="#00BFFF"/>
<rect x="410" y="205" width="3" height="15" fill="#00BFFF"/>
<rect x="415" y="197" width="1" height="14" fill="#FF0000"/>
<rect x="414" y="205" width="3" height="2" fill="#FF0000"/>
<rect x="419" y="195" width="1" height="15" fill="#00BFFF"/>
<rect x="418" y="206" width="3" height="1" fill="#00BFFF"/>
<rect x="423" y="201" width="1" height="20" fill="#00BFFF"/>
<rect x="422" y="203" width="3" height="6" fill="#00BFFF"/>
<rect x="427" y="195" width="1" height="13" fill="#FF0000"/>
<rect x="426" y="203" width="3" height="4" fill="#FF0000"/>
<rect x="431" y="202" width="1" height="14" fill="#FF0000"/>
<rect x="430" y="206" width="3" height="3" fill="#FF0000"/>
<rect x="435" y="206" width="1" height="32" fill="#FF0000"/>
<rect x="434" y="208" width="3" height="10" fill="#FF0000"/>
<rect x="439" y="217" width="1" height="33" fill="#FF0000"/>
<rect x="438" y="217" width="3" height="8" fill="#FF0000"/>
<rect x="443" y="206" width="1" height="21" fill="#00BFFF"/>
<rect x="442" y="211" width="3" height="14" fill="#00BFFF"/>
<rect x="447" y="201" width="1" height="21" fill="#00BFFF"/>
<rect x="446" y="204" width="3" height="8" fill="#00BFFF"/>
<rect x="451" y="198" width="1" height="13" fill="#000"/>
<rect x="450" y="204" width="3" height="1" fill="#000"/>
<rect x="455" y="196" width="1" height="21" fill="#00BFFF"/>
<rect x="454" y="198" width="3" height="6" fill="#00BFFF"/>
<rect x="459" y="182" width="1" height="39" fill="#00BFFF"/>
<rect x="458" y="192" width="3" height="7" fill="#00BFFF"/>
<rect x="463" y="167" width="1" height="33" fill="#00BFFF"/>
<rect x="462" y="173" width="3" height="20" fill="#00BFFF"/>
<rect x="467" y="150" width="1" height="88" fill="#FF0000"/>
<rect x="466" y="173" width="3" height="60" fill="#FF0000"/>
<rect x="471" y="197" width="1" height="36" fill="#00BFFF"/>
<rect x="470" y="204" width="3" height="28" fill="#00BFFF"/>
<rect x="475" y="167" width="1" height="38" fill="#00BFFF"/>
<rect x="474" y="174" width="3" height="31" fill="#00BFFF"/>
<rect x="479" y="161" width="1" height="46" fill="#FF0000"/>
<rect x="478" y="174" width="3" height="24" fill="#FF0000"/>
<rect x="483" y="182" width="1" height="45" fill="#FF0000"/>
<rect x="482" y="197" width="3" height="27" fill="#FF0000"/>
<rect x="487" y="190" width="1" height="49" fill="#00BFFF"/>
<rect x="486" y="193" width="3" height="30" fill="#00BFFF"/>
<rect x="491" y="159" width="1" height="49" fill="#00BFFF"/>
<rect x="490" y="184" width="3" height="11" fill="#00BFFF"/>
<rect x="495" y="179" width="1" height="45" fill="#FF0000"/>
<rect x="494" y="184" width="3" height="21" fill="#FF0000"/>
<rect x="499" y="197" width="1" height="27" fill="#FF0000"/>
<rect x="498" y="203" width="3" height="17" fill="#FF0000"/>
<rect x="503" y="178" width="1" height="42" fill="#00BFFF"/>
<rect x="502" y="184" width="3" height="35" fill="#00BFFF"/>
<rect x="507" y="176" width="1" height="16" fill="#FF0000"/>
<rect x="506" y="184" width="3" height="8" fill="#FF0000"/>
<rect x="511" y="185" width="1" height="16" fill="#00BFFF"/>
<rect x="510" y="189" width="3" height="2" fill="#00BFFF"/>
<rect x="515" y="189" width="1" height="19" fill="#FF0000"/>
<rect x="514" y="189" width="3" height="17" fill="#FF0000"/>
<rect x="519" y="201" width="1" height="9" fill="#00BFFF"/>
<rect x="518" y="202" width="3" height="4" fill="#00BFFF"/>
<rect x="523" y="198" width="1" height="12" fill="#FF0000"/>
<rect x="522" y="202" width="3" height="7" fill="#FF0000"/>
<rect x="527" y="205" width="1" height="9" fill="#00BFFF"/>
<rect x="526" y="205" width="3" height="4" fill="#00BFFF"/>
<rect x="531" y="205" width="1" height="27" fill="#FF0000"/>
<rect x="530" y="205" width="3" height="23" fill="#FF0000"/>
<rect x="535" y="220" width="1" height="14" fill="#FF0000"/>
<rect x="534" y="227" width="3" height="5" fill="#FF0000"/>
<rect x="539" y="222" width="1" height="12" fill="#00BFFF"/>
<rect x="538" y="223" width="3" height="9" fill="#00BFFF"/>
<rect x="543" y="216" width="1" height="15" fill="#00BFFF"/>
<rect x="542" y="220" width="3" height="4" fill="#00BFFF"/>
<rect x="547" y="212" width="1" height="13" fill="#00BFFF"/>
<rect x="546" y="218" width="3" height="2" fill="#00BFFF"/>
<rect x="551" y="216" width="1" height="32" fill="#FF0000"/>
<rect x="550" y="218" width="3" height="27" fill="#FF0000"/>
<rect x="555" y="225" width="1" height="34" fill="#00BFFF"/>
<rect x="554" y="231" width="3" height="14" fill="#00BFFF"/>
<rect x="559" y="213" width="1" height="31" fill="#00BFFF"/>
<rect x="558" y="218" width="3" height="14" fill="#00BFFF"/>
<rect x="563" y="186" width="1" height="34" fill="#00BFFF"/>
<rect x="562" y="194" width="3" height="24" fill="#00BFFF"/>
<rect x="567" y="193" width="1" height="38" fill="#FF0000"/>
<rect x="566" y="194" width="3" height="29" fill="#FF0000"/>
<rect x="571" y="210" width="1" height="46" fill="#FF0000"/>
<rect x="570" y="222" width="3" height="22" fill="#FF0000"/>
<rect x="575" y="234" width="1" height="76" fill="#FF0000"/>
<rect x="574" y="243" width="3" height="53" fill="#FF0000"/>
<rect x="579" y="293" width="1" height="62" fill="#FF0000"/>
<rect x="578" y="295" width="3" height="56" fill="#FF0000"/>
<rect x="583" y="270" width="1" height="86" fill="#00BFFF"/>
<rect x="582" y="276" width="3" height="74" fill="#00BFFF"/>
<rect x="587" y="216" width="1" height="64" fill="#00BFFF"/>
<rect x="586" y="238" width="3" height="39" fill="#00BFFF"/>
<rect x="591" y="192" width="1" height="49" fill="#00BFFF"/>
<rect x="590" y="203" width="3" height="35" fill="#00BFFF"/>
<rect x="595" y="177" width="1" height="30" fill="#00BFFF"/>
<rect x="594" y="186" width="3" height="18" fill="#00BFFF"/>
<rect x="599" y="175" width="1" height="15" fill="#00BFFF"/>
<rect x="598" y="183" width="3" height="4" fill="#00BFFF"/>
<rect x="603" y="182" width="1" height="18" fill="#FF0000"/>
<rect x="602" y="183" width="3" height="15" fill="#FF0000"/>
<rect x="607" y="194" width="1" height="13" fill="#FF0000"/>
<rect x="606" y="197" width="3" height="10" fill="#FF0000"/>
<rect x="611" y="200" width="1" height="15" fill="#FF0000"/>
<rect x="610" y="206" width="3" height="9" fill="#FF0000"/>
<rect x="615" y="198" width="1" height="13" fill="#00BFFF"/>
<rect x="614" y="203" width="3" height="5" fill="#00BFFF"/>
<rect x="619" y="197" width="1" height="18" fill="#FF0000"/>
<rect x="618" y="203" width="3" height="12" fill="#FF0000"/>
<rect x="623" y="205" width="1" height="22" fill="#00BFFF"/>
<rect x="622" y="208" width="3" height="7" fill="#00BFFF"/>
<rect x="627" y="187" width="1" height="29" fill="#00BFFF"/>
<rect x="626" y="187" width="3" height="22" fill="#00BFFF"/>
<rect x="631" y="177" width="1" height="16" fill="#00BFFF"/>
<rect x="630" y="178" width="3" height="10" fill="#00BFFF"/>
<rect x="635" y="177" width="1" height="15" fill="#FF0000"/>
<rect x="634" y="178" width="3" height="13" fill="#FF0000"/>
<rect x="639" y="187" width="1" height="10" fill="#FF0000"/>
<rect x="638" y="190" width="3" height="3" fill="#FF0000"/>
<rect x="643" y="182" width="1" height="25" fill="#FF0000"/>
<rect x="642" y="192" width="3" height="11" fill="#FF0000"/>
<rect x="647" y="195" width="1" height="35" fill="#FF0000"/>
<rect x="646" y="202" width="3" height="12" fill="#FF0000"/>
<rect x="651" y="184" width="1" height="31" fill="#00BFFF"/>
<rect x="650" y="209" width="3" height="5" fill="#00BFFF"/>
<rect x="655" y="179" width="1" height="38" fill="#00BFFF"/>
<rect x="654" y="186" width="3" height="24" fill="#00BFFF"/>
<rect x="659" y="186" width="1" height="39" fill="#FF0000"/>
<rect x="658" y="186" width="3" height="35" fill="#FF0000"/>
<rect x="663" y="205" width="1" height="20" fill="#00BFFF"/>
<rect x="662" y="212" width="3" height="9" fill="#00BFFF"/>
<rect x="667" y="211" width="1" height="6" fill="#FF0000"/>
<rect x="666" y="212" width="3" height="5" fill="#FF0000"/>
<rect x="2" y="2" width="693" height="1" fill="#000"/>
<rect x="2" y="365" width="693" height="1" fill="#000"/>
<rect x="2" y="367" width="693" height="1" fill="#000"/>
<rect x="2" y="479" width="693" height="1" fill="#000"/>
<rect x="2" y="2" width="1" height="364" fill="#000"/>
<rect x="2" y="367" width="1" height="113" fill="#000"/>
<rect x="694" y="2" width="1" height="364" fill="#000"/>
<rect x="694" y="367" width="1" height="113" fill="#000"/>
<rect x="695" y="31" width="2" height="1" fill="#000"/>
<rect x="695" y="64" width="2" height="1" fill="#000"/>
<rect x="695" y="97" width="2" height="1" fill="#000"/>
<rect x="695" y="130" width="2" height="1" fill="#000"/>
<rect x="695" y="163" width="2" height="1" fill="#000"/>
<rect x="695" y="196" width="2" height="1" fill="#000"/>
<rect x="695" y="229" width="2" height="1" fill="#000"/>
<rect x="695" y="262" width="2" height="1" fill="#000"/>
<rect x="695" y="295" width="2" height="1" fill="#000"/>
<rect x="695" y="328" width="2" height="1" fill="#000"/>
<rect x="695" y="362" width="2" height="1" fill="#000"/>
<rect x="695" y="369" width="1" height="1" fill="#000"/>
<rect x="695" y="422" width="1" height="1" fill="#000"/>
<rect x="695" y="478" width="1" height="1" fill="#000"/>
<rect x="3" y="480" width="1" height="3" fill="#000"/>
<rect x="67" y="480" width="1" height="3" fill="#000"/>
<rect x="131" y="480" width="1" height="3" fill="#000"/>
<rect x="195" y="480" width="1" height="3" fill="#000"/>
<rect x="259" y="480" width="1" height="3" fill="#000"/>
<rect x="323" y="480" width="1" height="3" fill="#000"/>
<rect x="387" y="480" width="1" height="3" fill="#000"/>
<rect x="451" y="480" width="1" height="3" fill="#000"/>
<rect x="515" y="480" width="1" height="3" fill="#000"/>
<rect x="579" y="480" width="1" height="3" fill="#000"/>
<rect x="643" y="480" width="1" height="3" fill="#000"/>
<path d="M6 9h7v1h-1v1h-1v1h-1v1h-1v-1h-1v-1h-1v-1h-1z" fill="#000"/>
</svg>
<div class="t" style="left:700px;top:27px">1.22620</div>
<div class="t" style="left:700px;top:60px">1.22485</div>
<div class="t" style="left:700px;top:93px">1.22355</div>
<div class="t" style="left:700px;top:126px">1.22220</div>
<div class="t" style="left:700px;top:159px">1.22090</div>
<div class="t" style="left:700px;top:192px">1.21955</div>
<div class="t" style="left:700px;top:225px">1.21825</div>
<div class="t" style="left:700px;top:258px">1.21690</div>
<div class="t" style="left:700px;top:291px">1.21560</div>
<div class="t" style="left:700px;top:324px">1.21425</div>
<div class="t" style="left:700px;top:358px">1.21290</div>
<div style="position:absolute;left:696px;top:16px;width:41px;height:11px;background:#FF0000"></div>
<div style="position:absolute;left:696px;top:144px;width:41px;height:11px;background:#FF0000"></div>
<div style="position:absolute;left:696px;top:162px;width:41px;height:11px;background:#FF0000"></div>
<div style="position:absolute;left:696px;top:279px;width:41px;height:11px;background:#FF0000"></div>
<div style="position:absolute;left:696px;top:349px;width:41px;height:11px;background:#FF0000"></div>
<div style="position:absolute;left:696px;top:211px;width:41px;height:11px;background:#000"></div>
<div class="t w" style="left:700px;top:17px">1.22655</div>
<div class="t w" style="left:700px;top:145px">1.22142</div>
<div class="t w" style="left:700px;top:163px">1.22070</div>
<div class="t w" style="left:700px;top:280px">1.21598</div>
<div class="t w" style="left:700px;top:350px">1.21320</div>
<div class="t w" style="left:700px;top:212px">1.21875</div>
<div class="t" style="left:698px;top:370px">0.0030159</div>
<div class="t" style="left:698px;top:418px">0.00</div>
<div class="t" style="left:698px;top:468px">-</div>
<div class="t" style="left:701.4px;top:468px">0.0031539</div>
<div class="t" style="left:18px;top:6px;letter-spacing:-0.4px">EURUSD,H1</div>
<div class="t" style="left:78px;top:6px">1.21892</div>
<div class="t" style="left:114px;top:6px">1.21896</div>
<div class="t" style="left:150px;top:6px">1.21875</div>
<div class="t" style="left:186px;top:6px">1.21875</div>
<div class="t" style="left:7px;top:372px;letter-spacing:0px">MACD</div>
<div class="t" style="left:35.7px;top:372px;letter-spacing:0px">_</div>
<div class="t" style="left:40.6px;top:372px;letter-spacing:-0.5px">color</div>
<div class="t" style="left:59.7px;top:372px;letter-spacing:-0.22px">(5,32,5)</div>
<div class="t" style="left:95px;top:372px">0.00000000</div>
<div class="t" style="left:146px;top:372px">0.00000000</div>
<div class="t" style="left:197px;top:372px">0.00011940</div>
<div class="t" style="left:2px;top:484px">20</div>
<div class="t" style="left:15px;top:484px;letter-spacing:0px">May</div>
<div class="t" style="left:37px;top:484px">2021</div>
<div class="t" style="left:66px;top:484px">21</div>
<div class="t" style="left:79px;top:484px;letter-spacing:0px">May</div>
<div class="t" style="left:101px;top:484px">05:00</div>
<div class="t" style="left:130px;top:484px">21</div>
<div class="t" style="left:143px;top:484px;letter-spacing:0px">May</div>
<div class="t" style="left:165px;top:484px">21:00</div>
<div class="t" style="left:194px;top:484px">24</div>
<div class="t" style="left:207px;top:484px;letter-spacing:0px">May</div>
<div class="t" style="left:229px;top:484px">14:00</div>
<div class="t" style="left:258px;top:484px">25</div>
<div class="t" style="left:271px;top:484px;letter-spacing:0px">May</div>
<div class="t" style="left:293px;top:484px">06:00</div>
<div class="t" style="left:322px;top:484px">25</div>
<div class="t" style="left:335px;top:484px;letter-spacing:0px">May</div>
<div class="t" style="left:357px;top:484px">22:00</div>
<div class="t" style="left:386px;top:484px">26</div>
<div class="t" style="left:399px;top:484px;letter-spacing:0px">May</div>
<div class="t" style="left:421px;top:484px">14:00</div>
<div class="t" style="left:450px;top:484px">27</div>
<div class="t" style="left:463px;top:484px;letter-spacing:0px">May</div>
<div class="t" style="left:485px;top:484px">06:00</div>
<div class="t" style="left:514px;top:484px">27</div>
<div class="t" style="left:527px;top:484px;letter-spacing:0px">May</div>
<div class="t" style="left:549px;top:484px">22:00</div>
<div class="t" style="left:578px;top:484px">28</div>
<div class="t" style="left:591px;top:484px;letter-spacing:0px">May</div>
<div class="t" style="left:613px;top:484px">14:00</div>
<div class="t" style="left:642px;top:484px">31</div>
<div class="t" style="left:655px;top:484px;letter-spacing:0px">May</div>
<div class="t" style="left:677px;top:484px">07:00</div>
</div></body></html>
